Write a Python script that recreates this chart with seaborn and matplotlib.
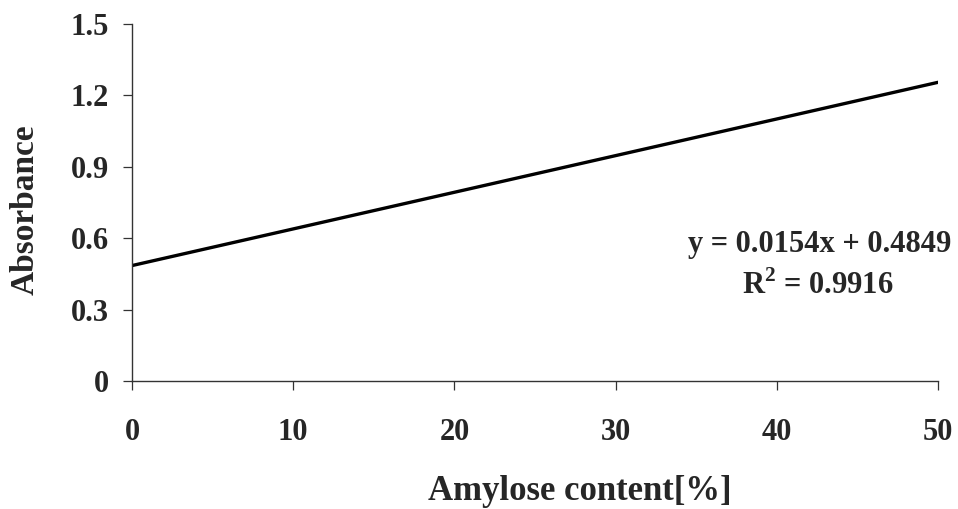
import pandas as pd
import matplotlib.pyplot as plt
import seaborn as sns

# trend line endpoints
amylose = [0, 50]
absorbance = [0.485, 1.255]
x_ticks = [0, 10, 20, 30, 40, 50]
x_tick_labels = ["0", "10", "20", "30", "40", "50"]
y_ticks = [0, 0.3, 0.6, 0.9, 1.2, 1.5]
y_tick_labels = ["0", "0.3", "0.6", "0.9", "1.2", "1.5"]
equation = "y = 0.0154x + 0.4849"
r_squared = "R$^\\mathbf{2}$ = 0.9916"

sns.set_style("ticks")
plt.rcParams['font.family'] = ['Liberation Serif', 'DejaVu Serif']
plt.rcParams['mathtext.fontset'] = 'custom'
plt.rcParams['mathtext.bf'] = 'Liberation Serif:bold'
plt.rcParams['mathtext.rm'] = 'Liberation Serif:bold'
plt.rcParams['font.weight'] = 'bold'

df = pd.DataFrame({"amylose": amylose, "absorbance": absorbance})

fig = plt.figure(figsize=(9.58, 5.09), dpi=100)
ax = fig.add_axes([0.1378, 0.2515, 0.8413, 0.7013])
sns.lineplot(data=df, x="amylose", y="absorbance", color="black",
             linewidth=2.4, ax=ax)

ax.set_xlim(0, 50)
ax.set_ylim(0, 1.5)
ax.set_xticks(x_ticks)
ax.set_xticklabels(x_tick_labels, fontsize=22, fontweight="bold")
ax.set_yticks(y_ticks)
ax.set_yticklabels(y_tick_labels, fontsize=22, fontweight="bold")
sns.despine(ax=ax)
for s in ["left", "bottom"]:
    ax.spines[s].set_linewidth(1.0)
    ax.spines[s].set_color("#333333")
ax.tick_params(axis="both", direction="out", length=6.5, width=0.9,
               color="#333333")
ax.tick_params(axis="x", pad=20)
ax.tick_params(axis="y", pad=10)

ax.set_xlabel("Amylose content[%]", fontsize=25, fontweight="bold")
ax.set_ylabel("Absorbance", fontsize=24, fontweight="bold")
ax.xaxis.set_label_coords(0.556, -0.262)
ax.yaxis.set_label_coords(-0.113, 0.48)

ax.text(0.853, 0.383, equation, transform=ax.transAxes, ha="center",
        va="center", fontsize=22, fontweight="bold")
ax.text(0.851, 0.268, r_squared, transform=ax.transAxes, ha="center",
        va="center", fontsize=22, fontweight="bold")

fig.savefig("out.png", dpi=100)
